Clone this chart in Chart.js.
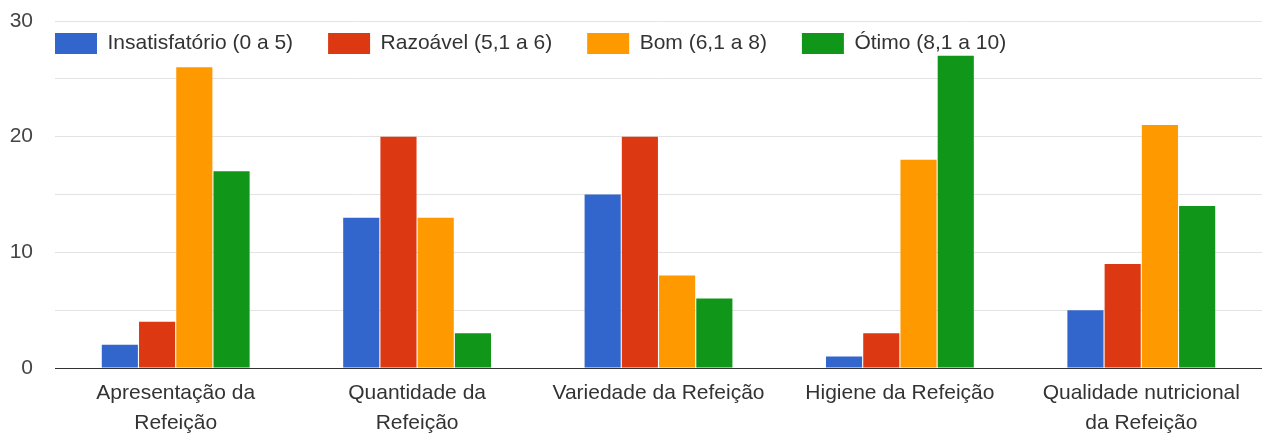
<!DOCTYPE html>
<html>
<head>
<meta charset="utf-8">
<script src="https://cdn.jsdelivr.net/npm/chart.js@4"></script>
<style>
  html, body { margin: 0; padding: 0; background: #fff; }
  #wrap { width: 1262px; height: 435px; }
</style>
</head>
<body>
<div id="wrap"><canvas id="grafico"></canvas></div>
<script>
// dados
var categorias = [
  ['Apresentação da', 'Refeição'],
  ['Quantidade da', 'Refeição'],
  'Variedade da Refeição',
  'Higiene da Refeição',
  ['Qualidade nutricional', 'da Refeição']
];
var insatisfatorio = [2, 13, 15, 1, 5];
var razoavel = [4, 20, 20, 3, 9];
var bom = [26, 13, 8, 18, 21];
var otimo = [17, 3, 6, 27, 14];
var ticksY = [0, 10, 20, 30];

var fonte = 'Liberation Sans, Arial, sans-serif';

// legenda desenhada dentro da área do gráfico (não ocupa espaço no layout)
var legendaDentro = {
  id: 'legendaDentro',
  beforeLayout: function(chart) {
    var leg = chart.legend;
    if (leg && !leg._patched) {
      var fit = leg.fit;
      leg.fit = function() {
        fit.call(this);
        this.height = 0;
      };
      leg._patched = true;
    }
  },
  afterLayout: function(chart) {
    var leg = chart.legend;
    var pad = leg.options.labels.padding;
    leg.left = chart.chartArea.left - pad;
    leg.right = chart.chartArea.right;
    leg.top = chart.chartArea.top + 12 - pad;
    leg.bottom = chart.chartArea.top + 50;
    leg.width = leg.right - leg.left;
    leg.height = leg.bottom - leg.top;
  }
};

var ctx = document.getElementById('grafico').getContext('2d');
var grafico = new Chart(ctx, {
  type: 'bar',
  data: {
    labels: categorias,
    datasets: [
      { label: 'Insatisfatório (0 a 5)', data: insatisfatorio, backgroundColor: '#3366cc' },
      { label: 'Razoável (5,1 a 6)', data: razoavel, backgroundColor: '#dc3912' },
      { label: 'Bom (6,1 a 8)', data: bom, backgroundColor: '#ff9900' },
      { label: 'Ótimo (8,1 a 10)', data: otimo, backgroundColor: '#109618' }
    ]
  },
  options: {
    responsive: true,
    maintainAspectRatio: false,
    animation: false,
    layout: { padding: { top: 0, right: 0, bottom: 0, left: 10 } },
    datasets: {
      bar: { categoryPercentage: 0.617, barPercentage: 0.97 }
    },
    plugins: {
      legend: {
        position: 'top',
        align: 'start',
        labels: {
          boxWidth: 42,
          boxHeight: 21,
          padding: 35,
          color: '#333',
          font: { family: fonte, size: 21 }
        }
      },
      tooltip: { enabled: false }
    },
    scales: {
      x: {
        grid: { display: false, drawTicks: false },
        border: { color: '#333', width: 1 },
        afterFit: function(axis) { axis.height = 67; },
        ticks: {
          color: '#333',
          maxRotation: 0,
          autoSkip: false,
          padding: 10,
          font: { family: fonte, size: 21, lineHeight: 1.43 }
        }
      },
      y: {
        min: 0,
        max: 30,
        border: { display: false },
        grid: {
          color: function(c) { return c.tick.value === 0 ? '#333' : '#e3e3e3'; },
          drawTicks: false
        },
        afterBuildTicks: function(axis) {
          var t = [];
          for (var v = 0; v <= 30; v += 5) t.push({ value: v });
          axis.ticks = t;
        },
        afterFit: function(axis) {
          axis.width = 45;
          axis.paddingTop = 21;
        },
        ticks: {
          color: '#444',
          padding: 22,
          font: { family: fonte, size: 21 },
          callback: function(v) { return ticksY.indexOf(v) >= 0 ? v : ''; }
        }
      }
    }
  },
  plugins: [legendaDentro]
});
</script>
</body>
</html>
